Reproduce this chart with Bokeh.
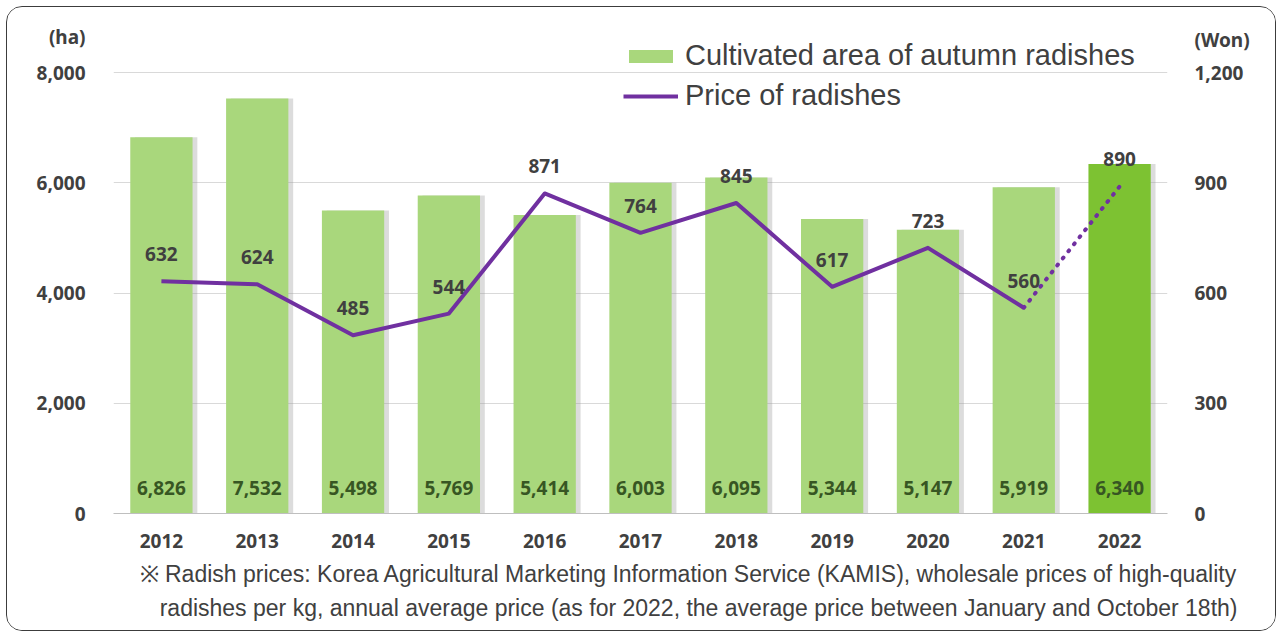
from bokeh.plotting import figure
from bokeh.models import (ColumnDataSource, LinearAxis, Range1d, NumeralTickFormatter,
                          FixedTicker, Legend, LegendItem, Title)
from bokeh.transform import dodge
from bokeh.core.properties import value
from bokeh.embed import file_html
from bokeh.resources import INLINE

# ---------------- data ----------------
years = ["2012", "2013", "2014", "2015", "2016", "2017", "2018", "2019", "2020", "2021", "2022"]
area = [6826, 7532, 5498, 5769, 5414, 6003, 6095, 5344, 5147, 5919, 6340]
price = [632, 624, 485, 544, 871, 764, 845, 617, 723, 560, 890]
area_ticks = [0, 2000, 4000, 6000, 8000]
price_ticks = [0, 300, 600, 900, 1200]
area_unit = "(ha)"
price_unit = "(Won)"
bar_name = "Cultivated area of autumn radishes"
line_name = "Price of radishes"
note_lines = [
    "\u203b Radish prices: Korea Agricultural Marketing Information Service (KAMIS), wholesale prices of high-quality",
    "radishes per kg, annual average price (as for 2022, the average price between January and October 18th)",
]

# ---------------- styles / layout constants ----------------
LIGHT = "#A9D77C"
DARK = "#7DC232"
PURPLE = "#7030A0"
TXT = "#404040"
BARTXT = "#375623"
NUMFONT = "Noto Sans"
SANS = "Liberation Sans"
AREA_MAX = 8800          # left axis range end (frame top)
PRICE_MAX = 1320         # right axis range end (same pixel scale)
AREA_UNIT_POS = 8640     # where the unit caption sits on the left axis
PRICE_UNIT_POS = 1290    # where the unit caption sits on the right axis

bar_colors = [LIGHT] * (len(years) - 1) + [DARK]
src = ColumnDataSource(dict(
    year=years, area=area, price=price, color=bar_colors,
    area_label=[f"{v:,}" for v in area],
    price_label=[str(v) for v in price],
))
solid = ColumnDataSource(dict(year=years[:-1], price=price[:-1]))
dotted = ColumnDataSource(dict(year=years[-2:], price=price[-2:]))

p = figure(x_range=years, y_range=Range1d(0, AREA_MAX), width=1270, height=625,
           output_backend="svg", toolbar_location=None, margin=(6, 0, 0, 6),
           min_border_left=106, min_border_right=110, min_border_top=21, min_border_bottom=119,
           background_fill_color="white", border_fill_color="white")
p.styles = {"border": "1.5px solid #3c3c3c", "border-radius": "16px", "overflow": "hidden"}
p.outline_line_color = None
p.extra_y_ranges = {"price": Range1d(0, PRICE_MAX)}

# grid
p.xgrid.grid_line_color = None
p.ygrid.ticker = FixedTicker(ticks=area_ticks)
p.ygrid.grid_line_color = "#d9d9d9"
p.ygrid.grid_line_width = 1

# axes
ya = p.yaxis[0]
ya.ticker = FixedTicker(ticks=area_ticks + [AREA_UNIT_POS])
ya.formatter = NumeralTickFormatter(format="0,0")
ya.major_label_overrides = {AREA_UNIT_POS: area_unit}
ra = LinearAxis(y_range_name="price", ticker=FixedTicker(ticks=price_ticks + [PRICE_UNIT_POS]),
                formatter=NumeralTickFormatter(format="0,0"))
ra.major_label_overrides = {PRICE_UNIT_POS: price_unit}
p.add_layout(ra, "right")
for ax in (ya, ra):
    ax.axis_line_color = None
    ax.major_tick_line_color = None
    ax.minor_tick_line_color = None
    ax.major_label_text_font = NUMFONT
    ax.major_label_text_font_style = "bold"
    ax.major_label_text_font_size = "19px"
    ax.major_label_text_color = TXT
ya.major_label_standoff = 22
ra.major_label_standoff = 21
xa = p.xaxis[0]
xa.axis_line_color = "#bfbfbf"
xa.axis_line_width = 1
xa.major_tick_line_color = None
xa.minor_tick_line_color = None
xa.major_label_text_font = NUMFONT
xa.major_label_text_font_style = "bold"
xa.major_label_text_font_size = "19px"
xa.major_label_text_color = TXT
xa.major_label_standoff = 14

# bars (soft shadow + bar)
p.vbar(x=dodge("year", 0.05, range=p.x_range), top="area", width=0.65, source=src,
       fill_color="#9a9a9a", fill_alpha=0.35, line_color=None)
bars = p.vbar(x="year", top="area", width=0.65, source=src, fill_color="color", line_color=None)

p.text(x="year", y=0, text="area_label", source=src, y_offset=-26,
       text_align="center", text_baseline="middle", text_font=value(NUMFONT),
       text_font_style="bold", text_font_size="19px", text_color=BARTXT)

# price line
line = p.line(x="year", y="price", source=solid, y_range_name="price",
              line_color=PURPLE, line_width=4, line_join="round")
p.line(x="year", y="price", source=dotted, y_range_name="price",
       line_color=PURPLE, line_width=4, line_dash="1 8", line_cap="round")

p.text(x="year", y="price", text="price_label", source=src, y_range_name="price",
       y_offset=-27, text_align="center", text_baseline="middle",
       text_font=value(NUMFONT), text_font_style="bold", text_font_size="19px",
       text_color=TXT)

# legend
legend = Legend(items=[LegendItem(label=bar_name, renderers=[bars]),
                       LegendItem(label=line_name, renderers=[line])],
                location=(510, 401), orientation="vertical",
                glyph_width=55, glyph_height=16, label_height=20, spacing=7,
                label_standoff=7, padding=0, margin=0,
                border_line_color=None, background_fill_alpha=0,
                label_text_font=SANS, label_text_font_size="29px", label_text_color=TXT)
p.add_layout(legend, "center")

# footnote
for i, t in enumerate(note_lines):
    p.add_layout(Title(text=t, align="right", offset=-70, standoff=(17 if i == 0 else -6),
                       text_font=SANS, text_font_size="23px", text_font_style="normal",
                       text_color=TXT), "below")

open("out.html", "w").write(file_html(p, INLINE))
